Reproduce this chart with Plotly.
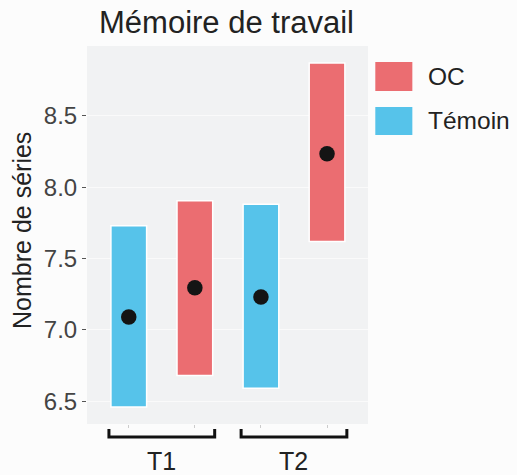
import plotly.graph_objects as go

# Working-memory scores: interval (low/high) and mean per session and group
groups = ["T1", "T2"]
series_names = ["Témoin", "OC"]
series_colors = ["#56c3ea", "#eb6d71"]

temoin_low = [6.46, 6.59]
temoin_high = [7.73, 7.88]
temoin_mean = [7.09, 7.23]

oc_low = [6.68, 7.62]
oc_high = [7.905, 8.87]
oc_mean = [7.295, 8.235]

y_ticks = [6.5, 7.0, 7.5, 8.0, 8.5]

lows = [temoin_low, oc_low]
highs = [temoin_high, oc_high]
means = [temoin_mean, oc_mean]

group_pos = [1, 2]
dodge = [-0.25, 0.25]
bar_width = 0.27

# plot area in pixels
W, H = 517, 475
L, R, T, B = 87, 367.7, 46, 424


def px_x(p):
    return (p - L) / (R - L)


def px_y(p):
    return (B - p) / (B - T)


FONT = "Liberation Sans, Arial, sans-serif"

fig = go.Figure()

bar_x = []
for s, name in enumerate(series_names):
    xs = [g + dodge[s] for g in group_pos]
    bar_x += xs
    fig.add_trace(go.Bar(
        x=xs,
        base=lows[s],
        y=[h - l for h, l in zip(highs[s], lows[s])],
        width=bar_width,
        marker=dict(color=series_colors[s], line=dict(color="white", width=1.5)),
        name=name,
        showlegend=False,
        hoverinfo="skip",
    ))

for s, name in enumerate(series_names):
    fig.add_trace(go.Scatter(
        x=[g + dodge[s] for g in group_pos],
        y=means[s],
        mode="markers",
        marker=dict(color="#141414", size=15.5),
        showlegend=False,
        name=name,
    ))

shapes = []
annotations = []

# bracket under each session with its label
for g, label in zip(group_pos, groups):
    x0, x1 = g - 0.4, g + 0.4
    y_top, y_bot = px_y(429), px_y(437)
    shapes.append(dict(
        type="path", xref="x", yref="paper",
        path=f"M {x0},{y_top} L {x0},{y_bot} L {x1},{y_bot} L {x1},{y_top}",
        line=dict(color="#111111", width=3),
    ))
    annotations.append(dict(
        x=g, y=px_y(461), xref="x", yref="paper", text=label,
        showarrow=False, xanchor="center", yanchor="middle",
        font=dict(family=FONT, size=25, color="#222222"),
    ))

# legend: OC on top, Témoin below
legend_rows = [(1, 62, 91), (0, 107, 135)]
for s, top, bot in legend_rows:
    shapes.append(dict(
        type="rect", xref="paper", yref="paper",
        x0=px_x(375), x1=px_x(412), y0=px_y(bot), y1=px_y(top),
        fillcolor=series_colors[s], line=dict(width=0),
    ))
    annotations.append(dict(
        x=px_x(426), y=px_y((top + bot) / 2), xref="paper", yref="paper",
        text=series_names[s], showarrow=False, xanchor="left", yanchor="middle",
        font=dict(family=FONT, size=24.5, color="#222222"),
    ))

annotations.append(dict(
    x=px_x(226), y=px_y(23), xref="paper", yref="paper",
    text="Mémoire de travail", showarrow=False,
    xanchor="center", yanchor="middle",
    font=dict(family=FONT, size=31, color="#222222"),
))
annotations.append(dict(
    x=px_x(22), y=px_y(230), xref="paper", yref="paper",
    text="Nombre de séries", showarrow=False, textangle=-90,
    xanchor="center", yanchor="middle",
    font=dict(family=FONT, size=25, color="#222222"),
))

fig.update_layout(
    width=W, height=H,
    margin=dict(l=L, r=W - R, t=T, b=H - B, pad=0),
    paper_bgcolor="#fcfcfc",
    plot_bgcolor="#f1f2f3",
    barmode="overlay",
    shapes=shapes,
    annotations=annotations,
    showlegend=False,
    xaxis=dict(
        range=[0.434, 2.56],
        tickvals=bar_x,
        ticktext=["" for _ in bar_x],
        ticks="outside", ticklen=3, tickcolor="#cccccc",
        showgrid=False, zeroline=False, showline=False,
    ),
    yaxis=dict(
        range=[6.34, 8.99],
        tickvals=y_ticks,
        ticktext=[f"{v:.1f}" for v in y_ticks],
        ticks="outside", ticklen=4, tickcolor="#555555",
        tickfont=dict(family=FONT, size=24, color="#444444"),
        showgrid=True, gridcolor="#fafafa", gridwidth=1,
        zeroline=False, showline=False,
    ),
)

fig.write_html("out.html")
